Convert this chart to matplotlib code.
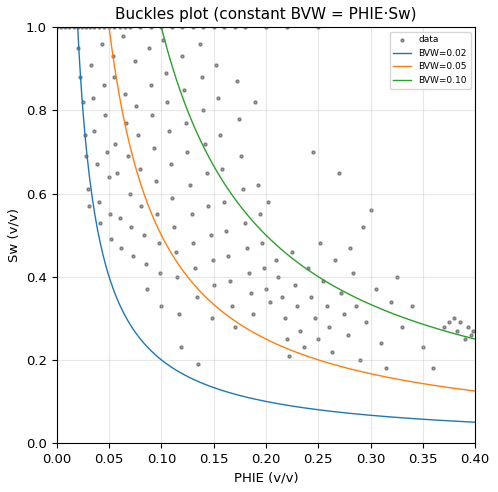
import matplotlib
matplotlib.use("Agg")
import numpy as np
import matplotlib.pyplot as plt

# scattered points (PHIE, Sw)
phie = [0.02,0.022,0.025,0.027,0.028,0.03,0.031,0.033,0.035,0.036,0.038,0.04,0.041,0.043,0.045,0.046,0.048,0.05,0.051,0.052,0.054,0.055,
        0.056,0.058,0.06,0.061,0.063,0.065,0.066,0.068,0.07,0.071,0.073,0.075,0.076,0.078,0.08,0.081,0.083,0.085,0.086,0.088,0.09,0.091,0.093,0.095,0.096,0.098,0.099,0.1,
        0.102,0.104,0.105,0.107,0.109,0.11,0.112,0.114,0.115,0.117,0.119,0.12,0.122,0.124,0.125,0.127,0.129,0.13,0.132,0.134,0.135,0.137,0.139,0.14,0.142,0.144,0.145,0.147,0.149,0.15,0.148,
        0.152,0.154,0.156,0.158,0.16,0.162,0.164,0.166,0.168,0.17,0.172,0.174,0.176,0.178,0.18,0.182,0.184,0.186,0.188,0.19,0.192,0.194,0.196,0.198,0.2,0.202,0.204,
        0.21,0.212,0.215,0.218,0.22,0.222,0.225,0.228,0.23,0.233,0.236,0.24,0.243,0.245,0.247,0.25,0.252,0.255,0.258,0.26,0.263,0.266,0.27,0.272,0.275,0.278,0.28,0.283,0.286,0.29,0.293,0.296,0.3,0.305,0.31,0.315,0.32,0.325,0.33,0.34,0.35,0.36,
        0.37,0.375,0.38,0.383,0.386,0.39,0.393,0.396,0.398]
sw = [0.95,0.88,0.82,0.74,0.69,0.61,0.57,0.91,0.83,0.75,0.67,0.58,0.53,0.96,0.86,0.79,0.70,0.64,0.55,0.49,0.93,0.88,
      0.72,0.65,0.54,0.47,0.98,0.84,0.77,0.69,0.60,0.52,0.45,0.92,0.81,0.74,0.66,0.57,0.50,0.43,0.37,0.95,0.86,0.79,0.71,0.63,0.55,0.48,0.41,0.33,
      0.97,0.89,0.82,0.75,0.67,0.59,0.52,0.46,0.40,0.31,0.23,0.93,0.85,0.77,0.70,0.62,0.55,0.48,0.42,0.35,0.19,0.96,0.88,0.80,0.72,0.65,0.57,0.50,0.44,0.38,0.30,
      0.91,0.83,0.74,0.66,0.58,0.51,0.45,0.39,0.33,0.28,0.87,0.78,0.69,0.61,0.53,0.47,0.41,0.36,0.31,0.82,0.62,0.55,0.48,0.42,0.37,0.58,0.34,
      0.44,0.40,0.35,0.30,0.25,0.21,0.46,0.38,0.33,0.27,0.23,0.42,0.35,0.70,0.30,0.25,0.48,0.39,0.33,0.28,0.22,0.44,0.65,0.36,0.31,0.26,0.47,0.41,0.33,0.20,0.52,0.29,0.56,0.37,0.24,0.18,0.34,0.40,0.28,0.33,0.23,0.18,
      0.28,0.29,0.30,0.27,0.29,0.25,0.28,0.26,0.27]
# points clipped at Sw = 1
top_phie = [0.0,0.004,0.008,0.012,0.016,0.02,0.024,0.028,0.032,0.036,0.04,0.045,0.05,0.055,0.06,0.065,0.07,0.08,0.09,0.1,0.11,0.12,0.13,0.14,0.15,0.16,0.17,0.18,0.2,0.22,0.25]
bvw_levels = [0.02, 0.05, 0.10]

fig = plt.figure(figsize=(4.98, 4.92), dpi=100)
ax = fig.add_axes([0.114, 0.0996, 0.840, 0.845])
ax.scatter(phie + top_phie, sw + [1.0] * len(top_phie), s=5, color="black", alpha=0.35, label="data")
for bvw in bvw_levels:
    x = np.linspace(bvw, 0.4, 300)
    ax.plot(x, bvw / x, lw=1, label=f"BVW={bvw:.2f}")
ax.set_xlim(0, 0.4)
ax.set_ylim(0, 1)
ax.grid(alpha=0.3)
ax.tick_params(labelsize=9.5)
ax.set_xlabel("PHIE (v/v)", fontsize=9.5)
ax.set_ylabel("Sw (v/v)", fontsize=9.5)
ax.set_title("Buckles plot (constant BVW = PHIE·Sw)", fontsize=11)
ax.legend(loc="upper right", fontsize=6.5)
fig.savefig("out.png")
